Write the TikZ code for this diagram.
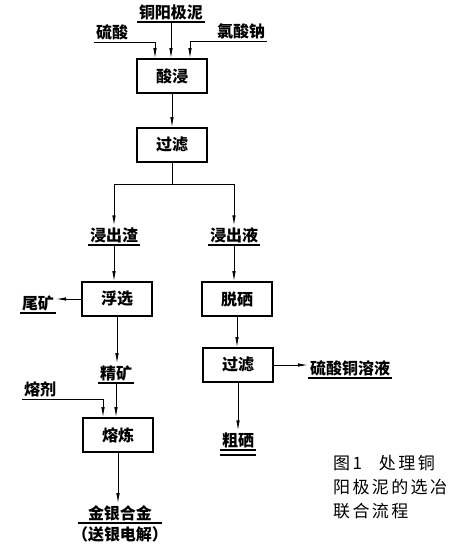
\documentclass[tikz,border=0pt]{standalone}
\usepackage{fontspec}
\newfontfamily\cjk{Noto Sans CJK SC}
\newfontfamily\cjkcap[LetterSpace=14]{Noto Sans CJK SC}
\usetikzlibrary{arrows.meta, positioning, calc}

\tikzset{
  stepbox/.style={draw, line width=1.8pt, minimum width=70pt, minimum height=34pt,
    font=\cjk\bfseries\fontsize{16}{16}\selectfont},
  lbl/.style={inner xsep=2pt, inner ysep=2pt, anchor=south,
    font=\cjk\bfseries\fontsize{16}{16}\selectfont},
  flow/.style={-{Latex[length=10pt,width=3.5pt]}, line width=0.8pt},
  uline/.style={line width=1.6pt}
}

\begin{document}
\begin{tikzpicture}[x=1pt, y=-1pt]
\useasboundingbox (0,0) rectangle (473,550);

% Process boxes
\node[stepbox] (leach) at (172,76)  {酸浸};
\node[stepbox] (filta) at (172,145) {过滤};
\node[stepbox] (flot)  at (117,299) {浮选};
\node[stepbox] (desel) at (237,299) {脱硒};
\node[stepbox] (filtb) at (238,365) {过滤};
\node[stepbox] (smelt) at (118,435) {熔炼};

% Feeds and products
\node[lbl] (slime)  at (171,22)  {铜阳极泥};
\node[lbl] (acid)   at (112,42)  {硫酸};
\node[lbl] (chlor)  at (241,41)  {氯酸钠};
\node[lbl] (resid)  at (114,245) {浸出渣};
\node[lbl] (liq)    at (234,245) {浸出液};
\node[lbl] (tail)   at (38,313)  {尾矿};
\node[lbl] (conc)   at (116,383) {精矿};
\node[lbl] (cuso)   at (350,378) {硫酸铜溶液};
\node[lbl] (crude)  at (238,450) {粗硒};
\node[lbl] (flux)   at (40,399)  {熔剂};
\node[lbl, inner xsep=10pt] (alloy) at (120,523) {金银合金};
\node[anchor=north, inner sep=3pt, font=\cjk\bfseries\fontsize{16}{16}\selectfont]
  (alloynote) at (alloy.south) {（送银电解）};

% Underlines
\foreach \n in {slime, resid, liq, tail, conc, cuso, crude, alloy}
  \draw[uline] (\n.south west) -- (\n.south east);
\draw[uline] ($(crude.south west)+(0,5)$) -- ($(crude.south east)+(0,5)$);

% Connectors
\draw[flow] (slime.south) -- (slime.south |- leach.north);
\draw[flow] (acid.south west) -| ($(leach.north)+(-17,0)$);
\draw[flow] (chlor.south east) -| ($(leach.north)+(18,0)$);
\draw[flow] (leach.south) -- (filta.north);
\coordinate (split) at ($(filta.south)+(0,21)$);
\draw[flow] (filta.south) -- (split) -| (resid.north);
\draw[flow] (split) -| (liq.north);
\draw[flow] (resid.south) -- (resid.south |- flot.north);
\draw[flow] (flot.west) -- (flot.west -| tail.east);
\draw[flow] (flot.south) -- (flot.south |- conc.north);
\draw[flow] (conc.south) -- (conc.south |- smelt.north);
\draw[flow] (flux.south west) -| ($(smelt.north)+(-15,0)$);
\draw[flow] (smelt.south) -- (smelt.south |- alloy.north);
\draw[flow] (liq.south) -- (liq.south |- desel.north);
\draw[flow] (desel.south) -- (desel.south |- filtb.north);
\draw[flow] (filtb.east) -- (filtb.east -| cuso.west);
\draw[flow] (filtb.south) -- (filtb.south |- crude.north);

% Caption
\node[anchor=north west, align=left, inner sep=0pt,
  font=\cjkcap\fontsize{17}{24}\selectfont] (cap) at (333,455)
  {图1\quad 处理铜\\阳极泥的选冶\\联合流程};

\end{tikzpicture}
\end{document}
